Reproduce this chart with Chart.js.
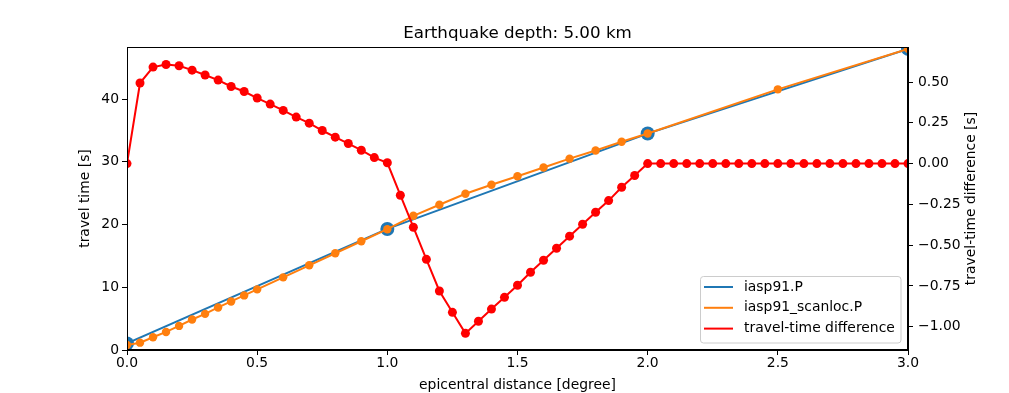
<!DOCTYPE html>
<html>
<head>
<meta charset="utf-8">
<script src="https://cdn.jsdelivr.net/npm/chart.js@4.4.0/dist/chart.umd.min.js"></script>
<style>
  body { margin: 0; background: #fff; }
  #wrap { width: 1009px; height: 393px; }
</style>
</head>
<body>
<div id="wrap"><canvas id="myChart" width="1009" height="393"></canvas></div>
<script>
// epicentral distances [degree]
const distBlue = [0.0, 1.0, 2.0, 3.0];
const ttBlue = [1.05, 19.3, 34.5, 48.0];

const distOrange = [0.0, 0.05, 0.1, 0.15, 0.2, 0.25, 0.3, 0.35, 0.4, 0.45, 0.5,
    0.6, 0.7, 0.8, 0.9, 1.0, 1.1, 1.2, 1.3, 1.4, 1.5, 1.6, 1.7, 1.8, 1.9, 2.0, 2.5, 3.0];
const ttOrange = [0.8, 1.17, 2.03, 2.88, 3.84, 4.86, 5.76, 6.78, 7.74, 8.70, 9.66,
    11.58, 13.50, 15.42, 17.34, 19.26, 21.39, 23.15, 24.9, 26.35, 27.7, 29.1, 30.5, 31.8, 33.2, 34.5, 41.55, 48.0];

const distRed = [0.0, 0.05, 0.1, 0.15, 0.2, 0.25, 0.3, 0.35, 0.4, 0.45, 0.5,
    0.55, 0.6, 0.65, 0.7, 0.75, 0.8, 0.85, 0.9, 0.95, 1.0,
    1.05, 1.1, 1.15, 1.2, 1.25, 1.3, 1.35, 1.4, 1.45, 1.5,
    1.55, 1.6, 1.65, 1.7, 1.75, 1.8, 1.85, 1.9, 1.95, 2.0,
    2.05, 2.1, 2.15, 2.2, 2.25, 2.3, 2.35, 2.4, 2.45, 2.5,
    2.55, 2.6, 2.65, 2.7, 2.75, 2.8, 2.85, 2.9, 2.95, 3.0];
const diffRed = [0.0, 0.494, 0.592, 0.608, 0.600, 0.573, 0.543, 0.512, 0.473, 0.442, 0.402,
    0.365, 0.326, 0.285, 0.248, 0.203, 0.162, 0.123, 0.082, 0.037, 0.005,
    -0.194, -0.390, -0.587, -0.781, -0.912, -1.041, -0.967, -0.892, -0.820, -0.746,
    -0.666, -0.593, -0.519, -0.445, -0.372, -0.298, -0.227, -0.145, -0.073, 0.0,
    0, 0, 0, 0, 0, 0, 0, 0, 0, 0,
    0, 0, 0, 0, 0, 0, 0, 0, 0, 0];

const xTicks = [0.0, 0.5, 1.0, 1.5, 2.0, 2.5, 3.0];
const yTicks = [0, 10, 20, 30, 40];
const y2Ticks = [-1.0, -0.75, -0.5, -0.25, 0.0, 0.25, 0.5];

const labels = ['iasp91.P', 'iasp91_scanloc.P', 'travel-time difference'];
const colors = ['#1f77b4', '#ff7f0e', '#ff0000'];

const FONT = 'DejaVu Sans';
const FS = 13.9;

function pairs(xs, ys) {
    return xs.map(function (x, i) { return { x: x, y: ys[i] }; });
}

const tickGrid = {
    drawOnChartArea: false,
    drawTicks: true,
    tickLength: 5,
    color: '#000',
    lineWidth: 1
};

// titles, frame and legend box like matplotlib
const decor = {
    id: 'decor',
    afterDraw(chart) {
        const c = chart.ctx;
        const a = chart.chartArea;
        c.save();
        c.strokeStyle = '#000';
        c.lineWidth = 1;
        c.strokeRect(Math.round(a.left) + 0.5, Math.round(a.top) + 0.5,
            Math.round(a.right - a.left) - 1, Math.round(a.bottom - a.top) - 1);

        c.fillStyle = '#000';
        c.textAlign = 'center';
        c.textBaseline = 'middle';
        c.font = '16.7px "' + FONT + '"';
        c.fillText('Earthquake depth: 5.00 km', (a.left + a.right) / 2, 33.5);

        c.font = FS + 'px "' + FONT + '"';
        c.fillText('epicentral distance [degree]', (a.left + a.right) / 2, 385);

        const midY = (a.top + a.bottom) / 2;
        c.save();
        c.translate(85, midY);
        c.rotate(-Math.PI / 2);
        c.fillText('travel time [s]', 0, 0);
        c.restore();
        c.save();
        c.translate(971, midY);
        c.rotate(-Math.PI / 2);
        c.fillText('travel-time difference [s]', 0, 0);
        c.restore();

        // legend
        const bx = 700.5, by = 276.5, bw = 200.5, bh = 66.5, r = 3;
        c.beginPath();
        c.roundRect(bx, by, bw, bh, r);
        c.fillStyle = 'rgba(255,255,255,0.8)';
        c.fill();
        c.strokeStyle = '#cccccc';
        c.stroke();
        c.textAlign = 'left';
        c.lineWidth = 2;
        for (let i = 0; i < labels.length; i++) {
            const yy = 287 + i * 20.8;
            c.strokeStyle = colors[i];
            c.beginPath();
            c.moveTo(704, yy);
            c.lineTo(733, yy);
            c.stroke();
            c.fillStyle = '#000';
            c.fillText(labels[i], 744, yy);
        }
        c.restore();
    }
};

let ctx = document.getElementById('myChart');
let myChart = new Chart(ctx, {
    type: 'line',
    data: {
        datasets: [{
            label: labels[0],
            data: pairs(distBlue, ttBlue),
            borderColor: colors[0],
            backgroundColor: colors[0],
            borderWidth: 2,
            pointRadius: 7,
            pointBorderWidth: 0,
            yAxisID: 'y',
            order: 3
        }, {
            label: labels[1],
            data: pairs(distOrange, ttOrange),
            borderColor: colors[1],
            backgroundColor: colors[1],
            borderWidth: 2,
            pointRadius: 4.2,
            pointBorderWidth: 0,
            yAxisID: 'y',
            order: 2
        }, {
            label: labels[2],
            data: pairs(distRed, diffRed),
            borderColor: colors[2],
            backgroundColor: colors[2],
            borderWidth: 2,
            pointRadius: 4.5,
            pointBorderWidth: 0,
            yAxisID: 'y2',
            order: 1
        }]
    },
    options: {
        responsive: false,
        animation: false,
        layout: { padding: { top: 47, left: 0, right: 0, bottom: 0 } },
        elements: { line: { tension: 0 } },
        plugins: {
            legend: { display: false },
            title: { display: false },
            tooltip: { enabled: false }
        },
        scales: {
            x: {
                type: 'linear',
                min: 0,
                max: 3,
                afterBuildTicks: function (s) { s.ticks = xTicks.map(function (v) { return { value: v }; }); },
                afterFit: function (s) { s.height = 43; },
                grid: tickGrid,
                border: { display: true, color: '#000', width: 1 },
                ticks: {
                    color: '#000',
                    padding: 0,
                    maxRotation: 0,
                    font: { family: FONT, size: FS },
                    callback: function (v) { return v.toFixed(1); }
                }
            },
            y: {
                type: 'linear',
                position: 'left',
                min: 0,
                max: 48.3,
                afterBuildTicks: function (s) { s.ticks = yTicks.map(function (v) { return { value: v }; }); },
                afterFit: function (s) { s.width = 127; },
                grid: tickGrid,
                border: { display: true, color: '#000', width: 1 },
                ticks: {
                    color: '#000',
                    padding: 3,
                    font: { family: FONT, size: FS },
                    callback: function (v) { return String(v); }
                }
            },
            y2: {
                type: 'linear',
                position: 'right',
                min: -1.143,
                max: 0.715,
                afterBuildTicks: function (s) { s.ticks = y2Ticks.map(function (v) { return { value: v }; }); },
                afterFit: function (s) { s.width = 101; },
                grid: tickGrid,
                border: { display: true, color: '#000', width: 1 },
                ticks: {
                    color: '#000',
                    padding: 5,
                    font: { family: FONT, size: FS },
                    callback: function (v) { return v.toFixed(2).replace('-', '\u2212'); }
                }
            }
        }
    },
    plugins: [decor]
});
</script>
</body>
</html>
